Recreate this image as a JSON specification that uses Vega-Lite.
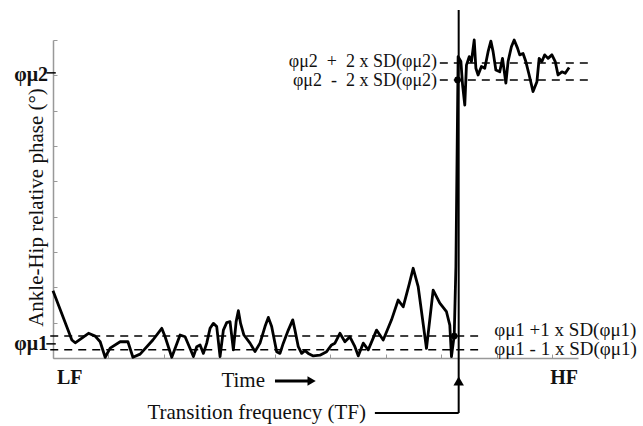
{
  "$schema": "https://vega.github.io/schema/vega-lite/v6.json",
  "autosize": {"type": "none"},
  "width": 525,
  "height": 318,
  "padding": {"left": 53, "top": 40, "right": 65, "bottom": 68},
  "background": "white",
  "config": {"view": {"stroke": null}, "font": "Liberation Serif"},
  "datasets": {
    "series": [
      {"t": 0.0, "phase": 1.9}, {"t": 0.34, "phase": 0.51}, {"t": 0.4, "phase": 0.43}, {"t": 0.64, "phase": 0.7},
      {"t": 0.76, "phase": 0.62}, {"t": 0.85, "phase": 0.46}, {"t": 0.94, "phase": 0.02}, {"t": 1.03, "phase": 0.28},
      {"t": 1.21, "phase": 0.46}, {"t": 1.35, "phase": 0.46}, {"t": 1.44, "phase": 0.02}, {"t": 1.57, "phase": 0.11},
      {"t": 1.8, "phase": 0.51}, {"t": 1.96, "phase": 0.84}, {"t": 2.02, "phase": 0.6}, {"t": 2.14, "phase": 0.02},
      {"t": 2.29, "phase": 0.65}, {"t": 2.38, "phase": 0.6}, {"t": 2.47, "phase": 0.27}, {"t": 2.53, "phase": 0.04},
      {"t": 2.59, "phase": 0.32}, {"t": 2.65, "phase": 0.37}, {"t": 2.71, "phase": 0.13}, {"t": 2.77, "phase": 0.42},
      {"t": 2.83, "phase": 0.84}, {"t": 2.89, "phase": 0.98}, {"t": 2.95, "phase": 0.89}, {"t": 3.01, "phase": 0.04},
      {"t": 3.07, "phase": 0.79}, {"t": 3.13, "phase": 1.0}, {"t": 3.19, "phase": 1.03}, {"t": 3.25, "phase": 0.23},
      {"t": 3.3, "phase": 1.03}, {"t": 3.34, "phase": 1.34}, {"t": 3.38, "phase": 0.98}, {"t": 3.44, "phase": 0.65},
      {"t": 3.55, "phase": 0.42}, {"t": 3.64, "phase": 0.18}, {"t": 3.73, "phase": 0.42}, {"t": 3.82, "phase": 0.89},
      {"t": 3.88, "phase": 1.15}, {"t": 3.94, "phase": 0.89}, {"t": 4.03, "phase": 0.18}, {"t": 4.09, "phase": 0.13},
      {"t": 4.15, "phase": 0.42}, {"t": 4.24, "phase": 0.79}, {"t": 4.32, "phase": 1.08}, {"t": 4.36, "phase": 0.79},
      {"t": 4.42, "phase": 0.32}, {"t": 4.48, "phase": 0.13}, {"t": 4.54, "phase": 0.21}, {"t": 4.6, "phase": 0.13},
      {"t": 4.69, "phase": 0.06}, {"t": 4.81, "phase": 0.08}, {"t": 4.93, "phase": 0.18}, {"t": 5.02, "phase": 0.37},
      {"t": 5.08, "phase": 0.42}, {"t": 5.17, "phase": 0.7}, {"t": 5.26, "phase": 0.46}, {"t": 5.35, "phase": 0.6},
      {"t": 5.44, "phase": 0.32}, {"t": 5.5, "phase": 0.06}, {"t": 5.59, "phase": 0.42}, {"t": 5.68, "phase": 0.23},
      {"t": 5.83, "phase": 0.79}, {"t": 5.95, "phase": 0.51}, {"t": 6.1, "phase": 1.08}, {"t": 6.22, "phase": 1.64},
      {"t": 6.31, "phase": 1.45}, {"t": 6.42, "phase": 2.1}, {"t": 6.49, "phase": 2.54}, {"t": 6.58, "phase": 2.02},
      {"t": 6.73, "phase": 0.27}, {"t": 6.85, "phase": 1.92}, {"t": 6.97, "phase": 1.55}, {"t": 7.09, "phase": 1.31},
      {"t": 7.15, "phase": 0.93}, {"t": 7.18, "phase": 0.04}, {"t": 7.23, "phase": 0.65}, {"t": 7.26, "phase": 2.58},
      {"t": 7.3, "phase": 8.53}, {"t": 7.35, "phase": 8.39}, {"t": 7.38, "phase": 7.73}, {"t": 7.42, "phase": 7.16},
      {"t": 7.45, "phase": 8.29}, {"t": 7.5, "phase": 8.53}, {"t": 7.54, "phase": 8.39}, {"t": 7.59, "phase": 9.0},
      {"t": 7.62, "phase": 8.2}, {"t": 7.66, "phase": 8.01}, {"t": 7.72, "phase": 8.25}, {"t": 7.78, "phase": 8.2},
      {"t": 7.84, "phase": 8.67}, {"t": 7.89, "phase": 8.97}, {"t": 7.93, "phase": 8.67}, {"t": 7.98, "phase": 8.15},
      {"t": 8.05, "phase": 8.1}, {"t": 8.1, "phase": 8.48}, {"t": 8.16, "phase": 7.78}, {"t": 8.2, "phase": 8.39},
      {"t": 8.26, "phase": 8.81}, {"t": 8.31, "phase": 9.0}, {"t": 8.37, "phase": 8.77}, {"t": 8.41, "phase": 8.58},
      {"t": 8.47, "phase": 8.62}, {"t": 8.52, "phase": 8.39}, {"t": 8.58, "phase": 8.01}, {"t": 8.65, "phase": 7.54},
      {"t": 8.72, "phase": 7.82}, {"t": 8.76, "phase": 8.48}, {"t": 8.81, "phase": 8.39}, {"t": 8.86, "phase": 8.58},
      {"t": 8.92, "phase": 8.48}, {"t": 8.99, "phase": 8.58}, {"t": 9.05, "phase": 8.39}, {"t": 9.1, "phase": 8.01},
      {"t": 9.17, "phase": 8.1}, {"t": 9.23, "phase": 8.06}, {"t": 9.3, "phase": 8.22}
    ],
    "bands": [
      {"name": "mu1 plus 1 SD", "t": -0.05, "t2": 7.66, "phase": 0.62},
      {"name": "mu1 minus 1 SD", "t": -0.05, "t2": 7.66, "phase": 0.23},
      {"name": "mu2 plus 2 SD", "t": 6.97, "t2": 9.73, "phase": 8.35},
      {"name": "mu2 minus 2 SD", "t": 6.97, "t2": 9.73, "phase": 7.87}
    ],
    "meanTicks": [
      {"name": "mu1", "t": -0.12, "t2": 0.05, "phase": 0.4},
      {"name": "mu2", "t": -0.12, "t2": 0.05, "phase": 8.07}
    ],
    "tfLine": [{"t": 7.31, "phase": -1.56, "phase2": 9.85}],
    "tfLead": [{"t": 5.8, "t2": 7.31, "phase": -1.56}],
    "tfHead": [{"t": 7.31, "phase": -0.65}],
    "timeArrow": [{"t": 4.0, "t2": 4.62, "phase": -0.65}],
    "timeHead": [{"t": 4.66, "phase": -0.65}],
    "crossings": [{"t": 7.23, "phase": 0.62}, {"t": 7.29, "phase": 7.87}],
    "boldLeft": [{"label": "LF", "t": 0.07, "phase": -0.57}],
    "boldRight": [
      {"label": "HF", "t": 9.46, "phase": -0.57},
      {"label": "φμ2", "t": -0.09, "phase": 8.02},
      {"label": "φμ1", "t": -0.09, "phase": 0.4}
    ],
    "plainRight": [
      {"label": "Time", "t": 3.82, "phase": -0.65},
      {"label": "Transition frequency (TF)", "t": 5.64, "phase": -1.56}
    ],
    "annotRight": [
      {"label": "φμ2\u00a0\u00a0+\u00a0\u00a02 x SD(φμ2)", "t": 6.92, "phase": 8.38},
      {"label": "φμ2\u00a0\u00a0-\u00a0\u00a02 x SD(φμ2)", "t": 6.92, "phase": 7.84}
    ],
    "annotLeft": [
      {"label": "φμ1 +1 x SD(φμ1)", "t": 7.95, "phase": 0.79},
      {"label": "φμ1 - 1 x SD(φμ1)", "t": 7.95, "phase": 0.25}
    ]
  },
  "encoding": {
    "x": {"field": "t", "type": "quantitative", "scale": {"domain": [0, 9.46], "nice": false, "zero": false},
      "axis": {"labels": false, "title": null, "grid": false, "domainColor": "#999", "domainWidth": 1.5, "tickColor": "#999", "tickSize": -4, "values": [0,1,2,3,4,5,6,7,8,9]}},
    "y": {"field": "phase", "type": "quantitative", "scale": {"domain": [0, 9], "nice": false, "zero": false},
      "axis": {"labels": false, "title": "Ankle-Hip relative phase (°)", "titleFont": "Liberation Serif", "titleFontSize": 21, "titleFontWeight": "normal", "titleColor": "#111", "titlePadding": 6, "titleY": 167, "grid": false, "domainColor": "#999", "domainWidth": 1.5, "tickColor": "#999", "tickSize": -4, "values": [0,1,2,3,4,5,6,7,8,9]}}
  },
  "layer": [
    {"data": {"name": "bands"}, "mark": {"type": "rule", "color": "black", "strokeWidth": 1.5, "strokeDash": [8, 6]},
      "encoding": {"x2": {"field": "t2"}}},
    {"data": {"name": "meanTicks"}, "mark": {"type": "rule", "color": "black", "strokeWidth": 1.5},
      "encoding": {"x2": {"field": "t2"}}},
    {"data": {"name": "series"}, "mark": {"type": "line", "color": "black", "strokeWidth": 2.8, "strokeJoin": "round", "clip": false}},
    {"data": {"name": "tfLine"}, "mark": {"type": "rule", "color": "black", "strokeWidth": 2},
      "encoding": {"y2": {"field": "phase2"}}},
    {"data": {"name": "tfLead"}, "mark": {"type": "rule", "color": "black", "strokeWidth": 2},
      "encoding": {"x2": {"field": "t2"}}},
    {"data": {"name": "tfHead"}, "mark": {"type": "point", "shape": "triangle-up", "filled": true, "color": "black", "size": 110, "opacity": 1}},
    {"data": {"name": "timeArrow"}, "mark": {"type": "rule", "color": "black", "strokeWidth": 3},
      "encoding": {"x2": {"field": "t2"}}},
    {"data": {"name": "timeHead"}, "mark": {"type": "point", "shape": "triangle-right", "filled": true, "color": "black", "size": 90, "opacity": 1}},
    {"data": {"name": "crossings"}, "mark": {"type": "point", "shape": "circle", "filled": true, "color": "black", "size": 45, "opacity": 1}},
    {"data": {"name": "boldLeft"}, "mark": {"type": "text", "align": "left", "baseline": "middle", "font": "Liberation Serif", "fontSize": 20, "fontWeight": "bold", "color": "#111"},
      "encoding": {"text": {"field": "label"}}},
    {"data": {"name": "boldRight"}, "mark": {"type": "text", "align": "right", "baseline": "middle", "font": "Liberation Serif", "fontSize": 20, "fontWeight": "bold", "color": "#111"},
      "encoding": {"text": {"field": "label"}}},
    {"data": {"name": "plainRight"}, "mark": {"type": "text", "align": "right", "baseline": "middle", "font": "Liberation Serif", "fontSize": 21, "color": "#111"},
      "encoding": {"text": {"field": "label"}}},
    {"data": {"name": "annotRight"}, "mark": {"type": "text", "align": "right", "baseline": "middle", "font": "Liberation Serif", "fontSize": 18, "color": "#111"},
      "encoding": {"text": {"field": "label"}}},
    {"data": {"name": "annotLeft"}, "mark": {"type": "text", "align": "left", "baseline": "middle", "font": "Liberation Serif", "fontSize": 19, "color": "#111"},
      "encoding": {"text": {"field": "label"}}}
  ]
}
